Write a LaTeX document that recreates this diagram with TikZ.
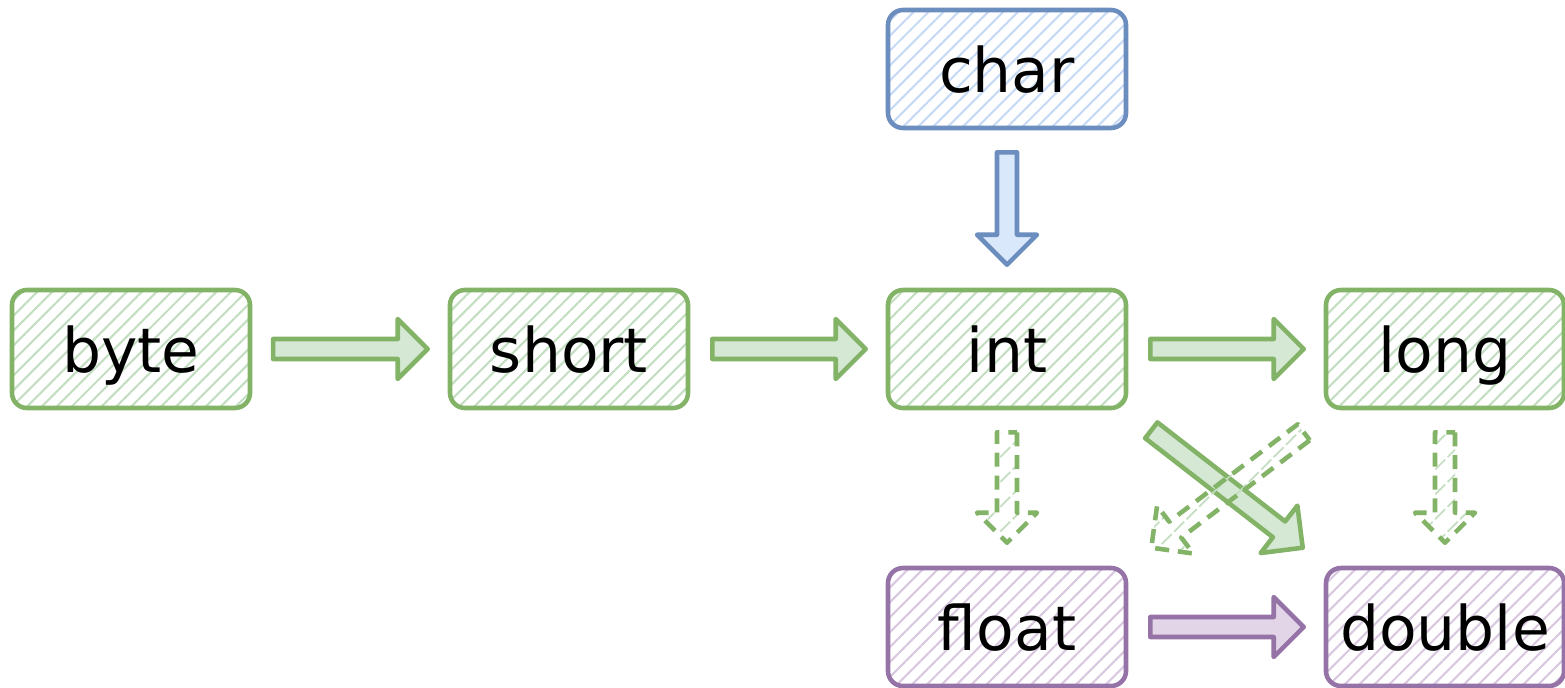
\documentclass[tikz,border=0pt]{standalone}
\usepackage{fontspec}
\setmainfont{DejaVu Sans}
\usetikzlibrary{positioning,calc,patterns.meta}

\definecolor{grnline}{HTML}{82B366}
\definecolor{grnfill}{HTML}{D5E8D4}
\definecolor{grnhatch}{HTML}{C4DEC1}
\definecolor{bluline}{HTML}{6C8EBF}
\definecolor{blufill}{HTML}{DAE8FC}
\definecolor{bluhatch}{HTML}{C6DAF5}
\definecolor{purline}{HTML}{9673A6}
\definecolor{purfill}{HTML}{E1D5E7}
\definecolor{purhatch}{HTML}{D8C8E0}

\tikzset{
  typebox/.style={draw=#1line, line width=1.3pt, rounded corners=0.15cm,
    minimum width=2.38cm, minimum height=1.18cm, inner sep=0pt,
    text height=14pt, text depth=0.4pt,
    pattern={Lines[angle=45,distance=3pt,line width=0.6pt]}, pattern color=#1hatch,
    font=\fontsize{17.5}{21}\selectfont},
  fatarrow/.style={draw=#1line, fill=#1fill, line width=1.3pt, line join=round},
  dasharrow/.style={draw=grnline, line width=1.3pt, line join=round,
    dash pattern=on 4pt off 2.5pt,
    pattern={Lines[angle=45,distance=5pt,line width=0.5pt]}, pattern color=grnhatch}
}

% block arrow: style, tail, tip
\newcommand{\bigarrow}[3]{%
  \coordinate (ba-h) at ($(#3)!0.3cm!(#2)$);
  \draw[#1] ($(#2)!0.1cm!90:(#3)$) -- ($(ba-h)!0.1cm!90:(#3)$)
    -- ($(ba-h)!0.3cm!90:(#3)$) -- (#3) -- ($(ba-h)!0.3cm!-90:(#3)$)
    -- ($(ba-h)!0.1cm!-90:(#3)$) -- ($(#2)!0.1cm!-90:(#3)$) -- cycle;
}

\begin{document}
\begin{tikzpicture}
  \useasboundingbox (0,0) rectangle (15.65,-6.87);

  % widening chain
  \node[typebox=grn] (byte) at (1.31,-3.49) {byte};
  \node[typebox=grn] (short) at (5.69,-3.49) {short};
  \node[typebox=grn] (int) at (10.07,-3.49) {int};
  \node[typebox=grn] (long) at (14.45,-3.49) {long};
  \node[typebox=blu] (char) at (10.07,-0.69) {char};
  \node[typebox=pur] (float) at (10.07,-6.27) {float};
  \node[typebox=pur] (double) at (14.45,-6.27) {double};

  % arrow ends, set by hand
  \coordinate (byte-o) at ([xshift=0.22cm]byte.east);
  \coordinate (short-i) at ([xshift=-0.2cm]short.west);
  \coordinate (short-o) at ([xshift=0.22cm]short.east);
  \coordinate (int-i) at ([xshift=-0.2cm]int.west);
  \coordinate (int-o) at ([xshift=0.22cm]int.east);
  \coordinate (long-i) at ([xshift=-0.2cm]long.west);
  \coordinate (float-o) at ([xshift=0.22cm]float.east);
  \coordinate (double-i) at ([xshift=-0.2cm]double.west);
  \coordinate (char-o) at ([yshift=-0.22cm]char.south);
  \coordinate (int-t) at ([yshift=0.23cm]int.north);
  \coordinate (int-b) at ([yshift=-0.22cm]int.south);
  \coordinate (float-t) at ([yshift=0.23cm]float.north);
  \coordinate (long-b) at ([yshift=-0.22cm]long.south);
  \coordinate (double-t) at ([yshift=0.23cm]double.north);
  \coordinate (int-d) at ([shift={(0.23,-0.2)}]int.south east);
  \coordinate (double-d) at ([shift={(-0.21,0.18)}]double.north west);
  \coordinate (long-d) at ([shift={(-0.2,-0.22)}]long.south west);
  \coordinate (float-d) at ([shift={(0.23,0.18)}]float.north east);

  \bigarrow{fatarrow=grn}{byte-o}{short-i}
  \bigarrow{fatarrow=grn}{short-o}{int-i}
  \bigarrow{fatarrow=grn}{int-o}{long-i}
  \bigarrow{fatarrow=blu}{char-o}{int-t}
  \bigarrow{fatarrow=pur}{float-o}{double-i}
  \bigarrow{fatarrow=grn}{int-d}{double-d}
  % possible loss of precision
  \bigarrow{dasharrow}{int-b}{float-t}
  \bigarrow{dasharrow}{long-b}{double-t}
  \bigarrow{dasharrow}{long-d}{float-d}
\end{tikzpicture}
\end{document}
